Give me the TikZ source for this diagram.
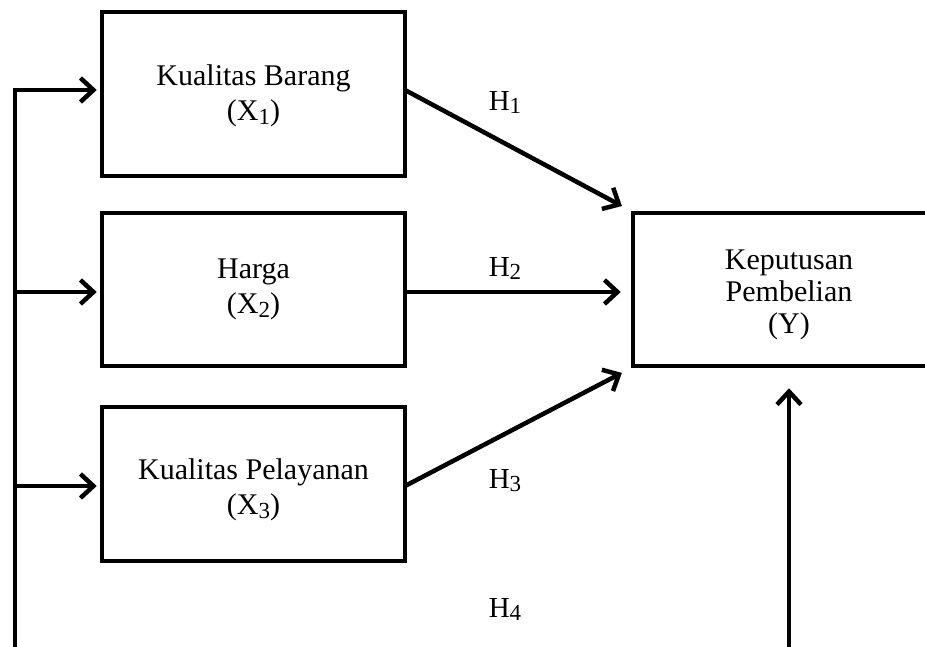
\documentclass[tikz,border=0pt]{standalone}
\usepackage{fontspec}
\setmainfont{Liberation Serif}
\usetikzlibrary{arrows.meta}
\newcommand\mysub[1]{\raisebox{-0.13em}{\fontsize{23}{23}\selectfont #1}}
\begin{document}
\begin{tikzpicture}[x=1pt,y=-1pt,
  box/.style={draw,line width=4.5pt,inner sep=0pt},
  btext/.style={align=center,font=\fontsize{30}{35}\selectfont,inner sep=0pt},
  arr/.style={line width=4.5pt,-{Straight Barb[length=13pt,width=24pt,line width=4.5pt]}},
  hlab/.style={font=\fontsize{29}{30}\selectfont,inner sep=0pt,anchor=base}]
\useasboundingbox (0,0) rectangle (925,646);
\clip (0,0) rectangle (925,646);
\node[box,minimum width=303pt,minimum height=164pt,
  label={[btext,yshift=-2pt]center:Kualitas Barang\\(X\mysub{1})}] (b1) at (253.5,94) {};
\node[box,minimum width=303pt,minimum height=153pt,
  label={[btext]center:Harga\\(X\mysub{2})}] (b2) at (253.5,289.5) {};
\node[box,minimum width=303pt,minimum height=154pt,
  label={[btext,yshift=-6pt]center:Kualitas Pelayanan\\(X\mysub{3})}] (b3) at (253.5,484) {};
\node[box,minimum width=312pt,minimum height=153pt,
  label={[btext,font=\fontsize{30}{32}\selectfont,yshift=-5pt]center:Keputusan\\Pembelian\\(Y)}] (y) at (789,289.5) {};
\coordinate (l0) at (15,660);
\coordinate (l1) at (15,90);
\coordinate (l2) at (15,292);
\coordinate (l3) at (15,486);
\coordinate (vb) at (789,660);
\draw[line width=4.5pt] (l0) -- ([yshift=-2.25pt]l1);
\draw[arr,shorten >=3pt] ([xshift=-2.25pt]l1) -- (l1 -| b1.west);
\draw[arr,shorten >=3pt] (l2) -- (l2 -| b2.west);
\draw[arr,shorten >=3pt] (l3) -- (l3 -| b3.west);
\coordinate (a1) at (405,90);
\coordinate (a2) at (405,292);
\coordinate (a3) at (405,486);
\draw[arr,shorten >=10pt] (a1) -- (y.north west);
\draw[arr,shorten >=10pt] (a2) -- (a2 -| y.west);
\draw[arr,shorten >=10pt] (a3) -- (y.south west);
\draw[arr,shorten >=20pt] (vb) -- (y.south);
\node[hlab] (h1) at (505,110) {H\mysub{1}};
\node[hlab] (h2) at (505,276) {H\mysub{2}};
\node[hlab] (h3) at (505,488) {H\mysub{3}};
\node[hlab] (h4) at (505,617) {H\mysub{4}};
\end{tikzpicture}
\end{document}
